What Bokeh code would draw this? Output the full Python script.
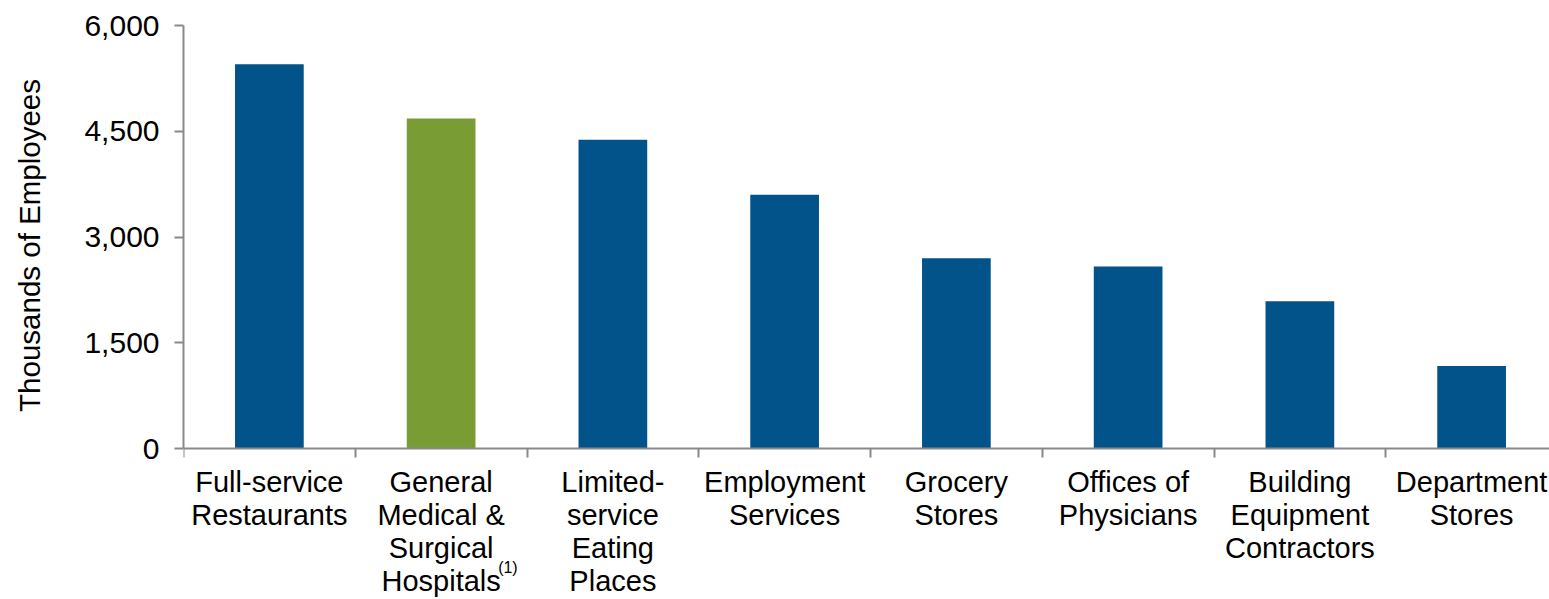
from bokeh.plotting import figure
from bokeh.layouts import column
from bokeh.models import (ColumnDataSource, Range1d, FixedTicker, NumeralTickFormatter)
from bokeh.core.properties import value
from bokeh.embed import file_html
from bokeh.resources import INLINE

categories = ["Full-service\nRestaurants",
              "General\nMedical &\nSurgical\nHospitals",
              "Limited-\nservice\nEating\nPlaces",
              "Employment\nServices",
              "Grocery\nStores",
              "Offices of\nPhysicians",
              "Building\nEquipment\nContractors",
              "Department\nStores"]
employees = [5450, 4680, 4380, 3600, 2700, 2580, 2090, 1170]
highlight = [False, True, False, False, False, False, False, False]
y_ticks = [0, 1500, 3000, 4500, 6000]
footnote = "(1)"
footnote_category = 1

BLUE = "#02538A"
GREEN = "#7A9C35"
AXIS = "#898989"
FONT = "Liberation Sans"

W, H = 1549, 599
LEFT, TOP = 183, 25
AXIS_Y = 448          # pixel row of the value 0
P1_H = 465            # main figure height (frame ends a little below the axis)
YMAX = 6000

xs = [i + 0.5 for i in range(len(categories))]
colors = [GREEN if h else BLUE for h in highlight]
src = ColumnDataSource(dict(x=xs, top=employees, color=colors))

x_range = Range1d(0, (W - LEFT) / ((1557 - LEFT) / len(categories)))
ymin = -(P1_H - AXIS_Y) * YMAX / (AXIS_Y - TOP)

p = figure(width=W, height=P1_H, output_backend="svg", toolbar_location=None,
           x_range=x_range, y_range=Range1d(ymin, YMAX),
           x_axis_location="above",
           min_border_left=LEFT, min_border_right=0, min_border_top=TOP,
           min_border_bottom=0)
p.outline_line_color = None
p.grid.visible = False

p.vbar(x="x", top="top", bottom=0, width=0.4, fill_color="color", line_color=None,
       source=src)

# y axis
ya = p.yaxis[0]
ya.bounds = (0, YMAX)
ya.ticker = FixedTicker(ticks=y_ticks)
ya.formatter = NumeralTickFormatter(format="0,0")
ya.axis_line_color = AXIS
ya.axis_line_width = 2
ya.major_tick_line_color = AXIS
ya.major_tick_line_width = 2
ya.major_tick_out = 9
ya.major_tick_in = 0
ya.minor_tick_line_color = None
ya.major_label_text_font = FONT
ya.major_label_text_font_size = "30px"
ya.major_label_text_color = "black"
ya.major_label_standoff = 15
ya.axis_label = "Thousands of Employees"
ya.axis_label_text_font = FONT
ya.axis_label_text_font_size = "29.5px"
ya.axis_label_text_font_style = "normal"
ya.axis_label_text_color = "black"
ya.axis_label_standoff = 35

# x axis line at value 0 with tick marks at the category boundaries
xa = p.xaxis[0]
xa.fixed_location = 0
xa.ticker = FixedTicker(ticks=xs, minor_ticks=list(range(len(categories) + 1)))
xa.major_label_overrides = {x: "" for x in xs}
xa.major_label_text_font_size = "1px"
xa.major_label_standoff = 0
xa.major_tick_line_color = None
xa.major_tick_out = 0
xa.major_tick_in = 0
xa.axis_line_color = AXIS
xa.axis_line_width = 2
xa.minor_tick_line_color = AXIS
xa.minor_tick_line_width = 2
xa.minor_tick_out = 0
xa.minor_tick_in = 9

# category labels (one text per line) in a strip below the axis
LINE0, LINE_STEP = 33, 33     # first line / line spacing, px below axis
lx, ly, lt = [], [], []
for x, cat in zip(xs, categories):
    for k, line in enumerate(cat.split("\n")):
        lx.append(x)
        ly.append(-(LINE0 + k * LINE_STEP))
        lt.append(line)
lab_src = ColumnDataSource(dict(x=lx, y=ly, text=lt))

q = figure(width=W, height=H - P1_H, output_backend="svg", toolbar_location=None,
           x_range=x_range, y_range=Range1d(-(H - AXIS_Y), -(P1_H - AXIS_Y)),
           x_axis_location=None, y_axis_location=None,
           min_border_left=LEFT, min_border_right=0, min_border_top=0,
           min_border_bottom=0)
q.outline_line_color = None
q.grid.visible = False
q.text(x="x", y="y", text="text", source=lab_src, text_align="center",
       text_baseline="alphabetic", text_font=value(FONT), text_font_size="29px",
       text_color="black")

n_lines = categories[footnote_category].count("\n")
fn_src = ColumnDataSource(dict(x=[xs[footnote_category]],
                               y=[-(LINE0 + n_lines * LINE_STEP) + 13],
                               text=[footnote]))
q.text(x="x", y="y", text="text", source=fn_src, x_offset=57, text_align="left",
       text_baseline="alphabetic", text_font=value(FONT), text_font_size="16px",
       text_color="black")

open("out.html", "w").write(file_html(column(p, q, spacing=0), INLINE))
